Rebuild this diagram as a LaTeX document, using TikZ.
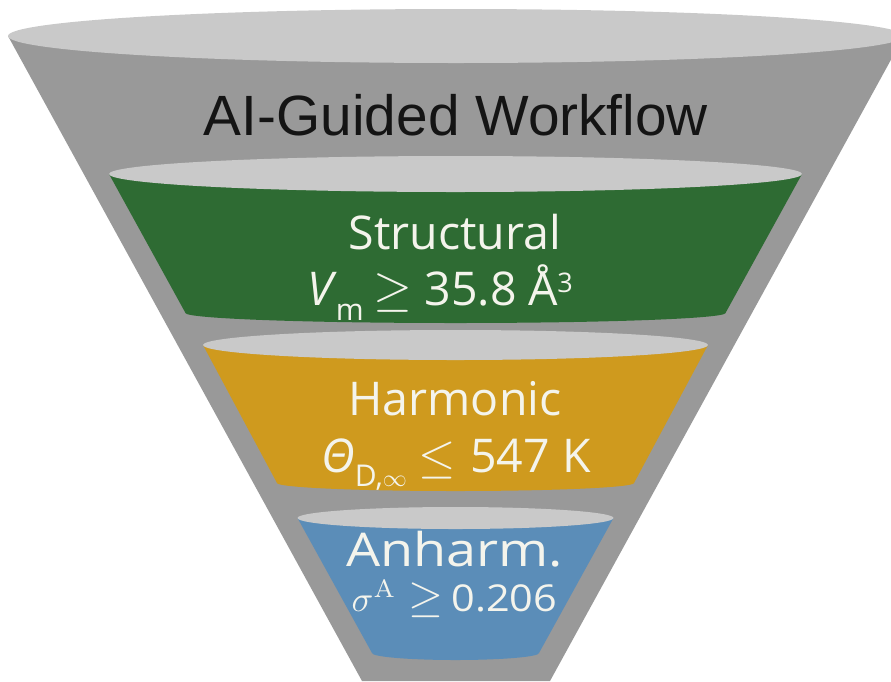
\documentclass[tikz,border=0pt]{standalone}
\usepackage{fontspec}
\usepackage{graphicx}
\newfontfamily\titlefont{Liberation Sans}
\newfontfamily\bandfont{Open Sans}
\definecolor{conegrey}{HTML}{999999}
\definecolor{rimgrey}{HTML}{C9C9C9}
\definecolor{stgreen}{HTML}{2E6B33}
\definecolor{hmgold}{HTML}{CF9A1E}
\definecolor{anblue}{HTML}{5B8DB8}
\definecolor{bandwhite}{HTML}{F4F4EC}
\newcommand\funnelband[8]{%
  \fill[#1] ({#2-#4},#3) -- ({#2-#7},#6) -- ({#2+#7},#6) -- ({#2+#4},#3) -- cycle;
  \fill[#1] (#2,#6) ellipse [x radius=#7, y radius=#8];
  \fill[rimgrey] (#2,#3) ellipse [x radius=#4, y radius=#5];}
\newcommand\lowsub[2]{\raisebox{-#1}{\fontsize{30}{30}\selectfont #2}}
\newcommand\highsup[1]{\raisebox{13pt}{\fontsize{27}{27}\selectfont #1}}
\newcommand\bigmath[2]{\scalebox{#1}{\fontsize{10}{12}\selectfont$#2$}}
\tikzset{
  titletext/.style={font=\titlefont\fontsize{56.8}{60}\selectfont, text=black!92, anchor=base, inner sep=0pt},
  bandtext/.style={font=\bandfont\fontsize{46.5}{50}\selectfont, text=bandwhite, anchor=base, inner sep=0pt}
}
\begin{document}
\begin{tikzpicture}[x=1pt,y=-1pt]
\useasboundingbox (0,0) rectangle (891,681);
\begin{scope}
  \clip (0,0) rectangle (891,681);
  \fill[conegrey] (8,36) -- (362,681) -- (550,681) -- (904,36) -- cycle;
  \fill[rimgrey] (456,36) ellipse [x radius=448, y radius=27];
\end{scope}
\funnelband{stgreen}{455.5}{174}{346.5}{18}{313}{270}{10}
\funnelband{hmgold}{455.5}{345}{252.5}{15}{483}{178.5}{8}
\funnelband{anblue}{455.5}{518}{158}{11}{653}{83.5}{7}
\node[titletext] (title) at (456,135) {AI-Guided Workflow};
\node[bandtext] (st1) at (455,249) {Structural};
\node[bandtext] (st2) at (440,305) {\textit{V}\kern-1pt\lowsub{15pt}{m}\hspace{10pt}\bigmath{5}{\geq}\hspace{12pt}35.8 Å\kern-1pt\highsup{3}};
\node[bandtext] (hm1) at (455,415) {Harmonic};
\node[bandtext] (hm2) at (456,472) {\textit{Θ}\lowsub{14pt}{D,\bigmath{2.4}{\infty}}\hspace{12pt}\bigmath{4.8}{\leq}\hspace{14pt}547 K};
\node[bandtext] (an1) at (454.5,566) {\scalebox{1.16}[1]{Anharm.}};
\node[bandtext] (an2) at (454.5,611) {\bigmath{3.6}{\sigma^{\mathrm{A}}}\hspace{12pt}\bigmath{4.5}{\geq}\hspace{8pt}\scalebox{1.12}[1]{\fontsize{37}{40}\selectfont 0.206}};
\end{tikzpicture}
\end{document}
